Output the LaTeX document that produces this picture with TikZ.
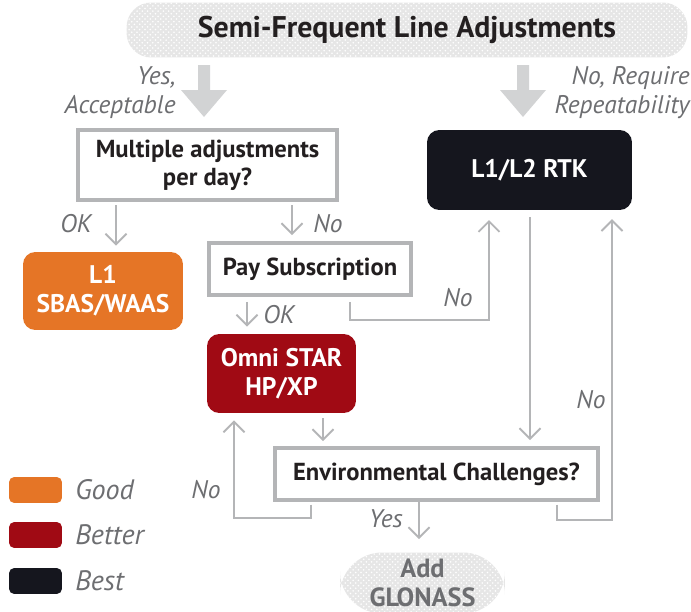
\documentclass[tikz,border=0pt]{standalone}
\usepackage{fontspec}
\setmainfont{PT Sans}
\usetikzlibrary{arrows.meta,patterns}

\definecolor{goodc}{HTML}{E57526}
\definecolor{betterc}{HTML}{A00A14}
\definecolor{bestc}{HTML}{15161E}
\definecolor{framec}{HTML}{B4B5B7}
\definecolor{labelc}{HTML}{6D6E71}
\definecolor{inkc}{HTML}{231F20}
\definecolor{shadec}{HTML}{E6E6E6}
\definecolor{bigarrowc}{HTML}{D2D3D4}

\tikzset{
  qbox/.style={draw=framec, line width=2.3pt, fill=white, text=inkc, align=center,
    font=\fontsize{14}{16}\selectfont\bfseries, inner sep=0pt},
  choice/.style={rounded corners=7pt, text=white, align=center,
    font=\fontsize{14.5}{16.5}\selectfont\bfseries, inner sep=0pt},
  dotted box/.style={fill=shadec, postaction={pattern=crosshatch dots, pattern color=white},
    align=center, inner sep=0pt},
  conn/.style={draw=framec, line width=1.1pt, -{Straight Barb[length=6pt,width=12pt]}},
  lbl/.style={text=labelc, font=\fontsize{14.5}{16.5}\selectfont\itshape, inner sep=0pt},
  swatch/.style={rounded corners=3pt, minimum width=1.06cm, minimum height=0.52cm, inner sep=0pt},
}

\begin{document}
\begin{tikzpicture}[x=0.02cm, y=-0.02cm]
  \useasboundingbox (0,0) rectangle (691,612);

  % title bar and the two big arrows under it
  \node[dotted box, rounded corners=14pt, minimum width=11.22cm, minimum height=1.1cm,
    text=inkc, font=\fontsize{17}{19}\selectfont\bfseries] (title) at (407,30)
    {Semi-Frequent Line Adjustments};
  \foreach \ax in {204,523} {
    \fill[bigarrowc] (\ax-6,65) -- (\ax+6,65) -- (\ax+6,90) -- (\ax+23,90)
      -- (\ax,117) -- (\ax-23,90) -- (\ax-6,90) -- cycle;
  }
  \node[lbl, anchor=east, align=right] (yesacc) at (176,93) {Yes,\\Acceptable};
  \node[lbl, anchor=east, align=right] (norep) at (690,93) {No, Require\\Repeatability};

  % question boxes
  \node[qbox, minimum width=5.18cm, minimum height=1.4cm] (multi) at (207.5,165)
    {Multiple adjustments\\per day?};
  \node[qbox, minimum width=4.04cm, minimum height=1.04cm] (pay) at (310,269) {Pay Subscription};
  \node[qbox, minimum width=6.46cm, minimum height=1.04cm] (env) at (436.5,474)
    {Environmental Challenges?};

  % answers
  \node[choice, fill=goodc, minimum width=3.2cm, minimum height=1.56cm] (l1) at (103,291)
    {L1\\SBAS/WAAS};
  \node[choice, fill=betterc, minimum width=2.98cm, minimum height=1.58cm] (omni) at (281.5,373.5)
    {Omni STAR\\HP/XP};
  \node[choice, fill=bestc, minimum width=4.1cm, minimum height=1.6cm] (rtk) at (529.5,170)
    {L1/L2 RTK};
  \node[dotted box, rounded corners=24pt, minimum width=3.3cm, minimum height=1.22cm,
    text=labelc, font=\fontsize{15}{16.5}\selectfont\bfseries] (glonass) at (422.5,583)
    {Add\\GLONASS};

  % columns and corners of the connectors
  \coordinate (c1) at (116,0);
  \coordinate (c2) at (292,0);
  \coordinate (c3) at (247,0);
  \coordinate (c4) at (350,0);
  \coordinate (c6) at (557,0);
  \coordinate (c7) at (311,0);
  \coordinate (c8) at (323,0);
  \coordinate (c9) at (530,0);
  \coordinate (c10) at (419,0);
  \coordinate (kn1) at (489,320);
  \coordinate (kn2) at (612,520);
  \coordinate (kn3) at (234,518);

  % connectors
  \draw[conn, shorten <=1.7pt, shorten >=3.4pt] (multi.south -| c1) -- (l1.north -| c1);
  \draw[conn, shorten <=1.7pt, shorten >=3.4pt] (multi.south -| c2) -- (pay.north -| c2);
  \draw[conn, shorten <=2.8pt, shorten >=4pt] (pay.south -| c3) -- (omni.north -| c3);
  \draw[conn, shorten <=2.8pt, shorten >=5.5pt] (pay.south -| c4) |- (kn1) -- (rtk.south -| kn1);
  \draw[conn, shorten <=4pt, shorten >=3.4pt] (rtk.south -| c9) -- (env.north -| c9);
  \draw[conn, shorten <=2.8pt, shorten >=2.8pt] (omni.south -| c8) -- (env.north -| c8);
  \draw[conn, shorten <=1.5pt, shorten >=5pt] (env.south -| c6) |- (kn2) -- (rtk.south -| kn2);
  \draw[conn, shorten <=1.5pt, shorten >=4pt] (env.south -| c7) |- (kn3) -- (omni.south -| kn3);
  \draw[conn, shorten >=7.4pt] (env.south -| c10) -- (glonass.north -| c10);

  % answer labels
  \node[lbl] (ok1) at (76,224) {OK};
  \node[lbl] (no1) at (328,224) {No};
  \node[lbl, anchor=west] (ok2) at (263,315) {OK};
  \node[lbl] (no2) at (458,298) {No};
  \node[lbl] (no3) at (591,400) {No};
  \node[lbl] (no4) at (206,490) {No};
  \node[lbl] (yes1) at (386,519) {Yes};

  % legend
  \foreach \col/\txt/\yy in {goodc/Good/490, betterc/Better/535, bestc/Best/581} {
    \node[swatch, fill=\col] (sw\txt) at (35.5,\yy) {};
    \node[lbl, anchor=west, font=\fontsize{16}{18}\selectfont\itshape] (lg\txt) at (75,\yy) {\txt};
  }
\end{tikzpicture}
\end{document}
